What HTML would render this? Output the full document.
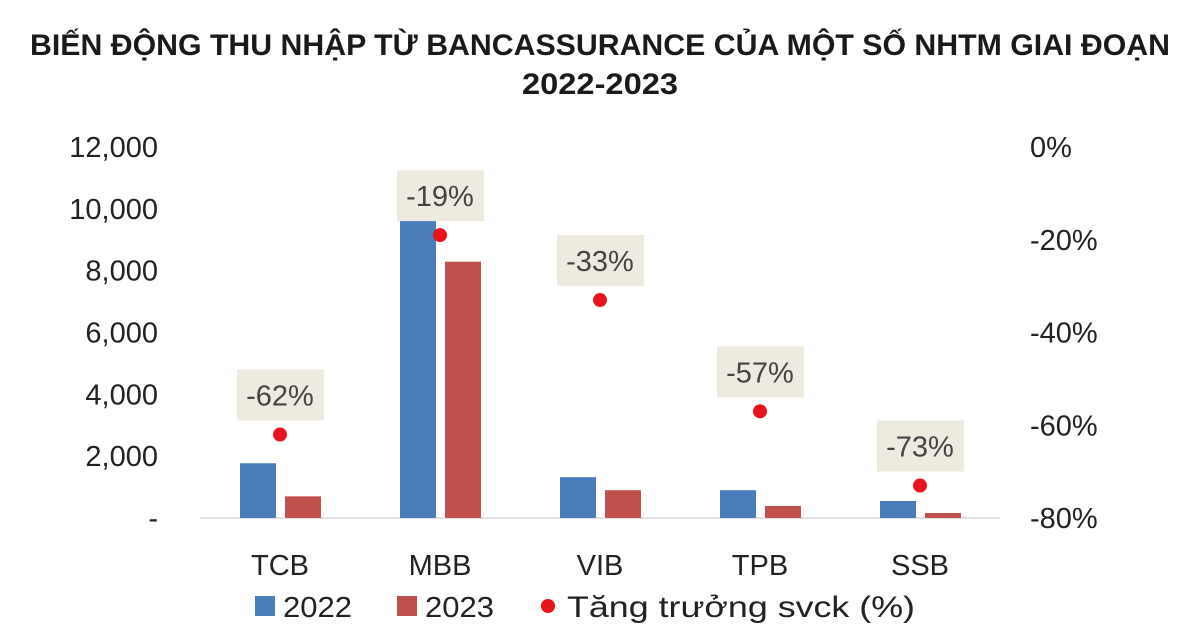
<!DOCTYPE html>
<html><head><meta charset="utf-8"><style>
body{margin:0;background:#fff;width:1200px;height:638px;overflow:hidden}
svg text{font-family:"Liberation Sans",sans-serif}
</style></head><body>
<svg id="c" width="1200" height="638">
<text x="600" y="55" text-anchor="middle" font-size="30" font-weight="bold" fill="#1a1a1a" textLength="1140" lengthAdjust="spacingAndGlyphs">BIẾN ĐỘNG THU NHẬP TỪ BANCASSURANCE CỦA MỘT SỐ NHTM GIAI ĐOẠN</text>
<text x="600" y="94" text-anchor="middle" font-size="30" font-weight="bold" fill="#1a1a1a" textLength="156" lengthAdjust="spacingAndGlyphs">2022-2023</text>
<g id="g"></g>
</svg>
<script>
const categories=["TCB","MBB","VIB","TPB","SSB"];
const v2022=[1770,9650,1320,900,550];
const v2023=[700,8290,900,390,160];
const growth=[-62,-19,-33,-57,-73];
const leftTicks=[0,2000,4000,6000,8000,10000,12000];
const rightTicks=[0,-20,-40,-60,-80];
const NS="http://www.w3.org/2000/svg";
const g=document.getElementById('g');
const y0=518,yTop=147,x0=200,x1=1000;
const yL=v=>y0-(v/12000)*(y0-yTop);
const yR=p=>yTop+(-p/80)*(y0-yTop);
const xC=i=>x0+(i+0.5)*(x1-x0)/categories.length;
function mk(t,a){const e=document.createElementNS(NS,t);for(const k in a)e.setAttribute(k,a[k]);g.appendChild(e);return e;}
leftTicks.forEach(v=>{const t=mk('text',{x:158,y:yL(v)+10,'text-anchor':'end','font-size':29,fill:'#222'});t.textContent=v===0?'-':v.toLocaleString('en-US');

});
rightTicks.forEach(p=>{const t=mk('text',{x:1030,y:yR(p)+10,'font-size':29,fill:'#222'});t.textContent=p+'%';

});
const ax=mk('line',{x1:x0,x2:x1,y1:y0,y2:y0,stroke:'#d9d9d9','stroke-width':1.5});


categories.forEach((c,i)=>{
const cx=xC(i);
const b1=mk('rect',{x:cx-40,y:yL(v2022[i]),width:36,height:y0-yL(v2022[i]),fill:'#4a7ebb'});


const b2=mk('rect',{x:cx+5,y:yL(v2023[i]),width:36,height:y0-yL(v2023[i]),fill:'#c0504d'});


const dy=yR(growth[i]);
const d=mk('circle',{cx:cx,cy:dy,r:7,fill:'#e8141b'});


const bx=mk('rect',{x:cx-43,y:dy-65,width:87,height:51,fill:'#edebe0'});


const lt=mk('text',{x:cx,y:dy-29,'text-anchor':'middle','font-size':29,fill:'#444'});lt.textContent=growth[i]+'%';


const ct=mk('text',{x:cx,y:575,'text-anchor':'middle','font-size':29,fill:'#222'});ct.textContent=c;


});
const l1=mk('rect',{x:255,y:596,width:20,height:20,fill:'#4a7ebb'});


const t1=mk('text',{x:283,y:617,'font-size':29,fill:'#222',textLength:69,lengthAdjust:'spacingAndGlyphs'});t1.textContent='2022';


const l2=mk('rect',{x:397,y:596,width:20,height:20,fill:'#c0504d'});


const t2=mk('text',{x:425,y:617,'font-size':29,fill:'#222',textLength:69,lengthAdjust:'spacingAndGlyphs'});t2.textContent='2023';


const l3=mk('circle',{cx:548,cy:606,r:7,fill:'#e8141b'});


const t3=mk('text',{x:567,y:617,'font-size':30,fill:'#222',textLength:348,lengthAdjust:'spacingAndGlyphs'});t3.textContent='Tăng trưởng svck (%)';


</script>
</body></html>
